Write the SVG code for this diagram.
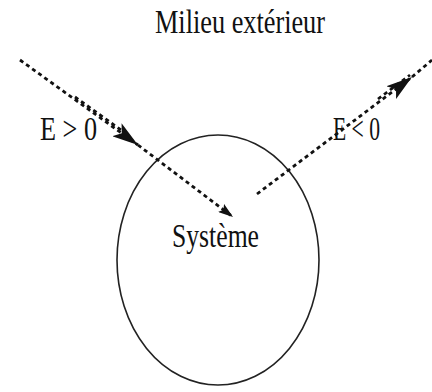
<svg xmlns="http://www.w3.org/2000/svg" width="432" height="392" viewBox="0 0 432 392">
<style>
.lbl{font-family:"Liberation Serif","Times New Roman",serif;font-size:26px;fill:#111}
.dash{fill:none;stroke:#111;stroke-width:2.8;stroke-dasharray:4 3.5}
</style>
<defs>
<marker id="big" markerWidth="26" markerHeight="16" refX="26" refY="8" orient="auto" markerUnits="userSpaceOnUse">
<path d="M0,0 L26,8 L0,16 L6,8 Z" fill="#111"/>
</marker>
<marker id="small" markerWidth="15" markerHeight="10" refX="15" refY="5" orient="auto" markerUnits="userSpaceOnUse">
<path d="M0,0 L15,5 L0,10 L3,5 Z" fill="#111"/>
</marker>
</defs>
<rect width="432" height="392" fill="#fff"/>
<g id="milieu"><text class="lbl" transform="translate(155,33) scale(1,1.3)" textLength="170" lengthAdjust="spacingAndGlyphs">Milieu extérieur</text></g>
<g id="systeme">
<ellipse cx="218" cy="260" rx="101" ry="125" fill="none" stroke="#222" stroke-width="1.6"/>
<text class="lbl" transform="translate(172,247) scale(1,1.3)" textLength="87" lengthAdjust="spacingAndGlyphs">Système</text>
</g>
<g id="connectors">
<path class="dash" d="M20,60 L138,145" marker-end="url(#big)"/>
<path class="dash" d="M75,97 L128,135"/>
<path class="dash" d="M138,145 L233,217" marker-end="url(#small)"/>
<path class="dash" d="M257,194 L412,77" marker-end="url(#big)"/>
<path class="dash" d="M378,99 L410,75"/>
<path class="dash" d="M412,77 L432,60"/>
</g>
<g id="lbl-in"><text class="lbl" transform="translate(40,140) scale(1,1.3)" textLength="57" lengthAdjust="spacingAndGlyphs">E &gt; 0</text></g>
<g id="lbl-out"><text class="lbl" transform="translate(333,140) scale(1,1.3)" textLength="47" lengthAdjust="spacingAndGlyphs">E &lt; 0</text></g>
</svg>
